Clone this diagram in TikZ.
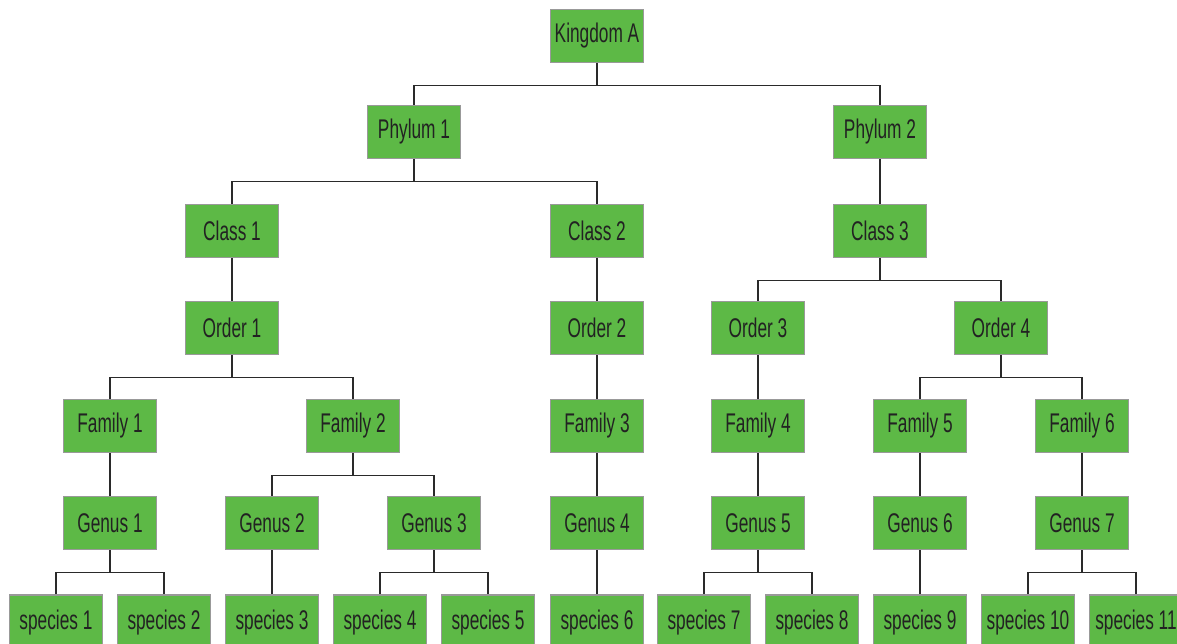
\documentclass[tikz,border=0pt]{standalone}
\usepackage{fontspec}
\setmainfont[FakeStretch=0.64]{Liberation Sans}
\definecolor{boxgreen}{HTML}{5DB946}
\definecolor{boxborder}{HTML}{999999}
\definecolor{linecol}{HTML}{2A2A2A}
\definecolor{txtcol}{HTML}{222222}
\tikzset{
  taxbox/.style={draw=boxborder, line width=1.6pt, fill=boxgreen, minimum width=93pt, minimum height=53pt, inner sep=0pt, text=txtcol, font=\fontsize{27}{29}\selectfont},
  spbox/.style={taxbox, minimum height=56pt},
  conn/.style={draw=linecol, line width=1.3pt}
}
\begin{document}
\begin{tikzpicture}[x=1pt,y=-1pt]
\useasboundingbox (0,0) rectangle (1177,643);
\begin{scope}
\clip (0,0) rectangle (1177,643);
% rows
\node[taxbox] (k) at (597,36) {Kingdom A};
\node[taxbox] (p1) at (414,132) {Phylum 1};
\node[taxbox] (p2) at (880,132) {Phylum 2};
\node[taxbox] (c1) at (232,231) {Class 1};
\node[taxbox] (c2) at (597,231) {Class 2};
\node[taxbox] (c3) at (880,231) {Class 3};
\node[taxbox] (o1) at (232,328) {Order 1};
\node[taxbox] (o2) at (597,328) {Order 2};
\node[taxbox] (o3) at (758,328) {Order 3};
\node[taxbox] (o4) at (1001,328) {Order 4};
\node[taxbox] (f1) at (110,426) {Family 1};
\node[taxbox] (f2) at (353,426) {Family 2};
\node[taxbox] (f3) at (597,426) {Family 3};
\node[taxbox] (f4) at (758,426) {Family 4};
\node[taxbox] (f5) at (920,426) {Family 5};
\node[taxbox] (f6) at (1082,426) {Family 6};
\node[taxbox] (g1) at (110,523) {Genus 1};
\node[taxbox] (g2) at (272,523) {Genus 2};
\node[taxbox] (g3) at (434,523) {Genus 3};
\node[taxbox] (g4) at (597,523) {Genus 4};
\node[taxbox] (g5) at (758,523) {Genus 5};
\node[taxbox] (g6) at (920,523) {Genus 6};
\node[taxbox] (g7) at (1082,523) {Genus 7};
\node[spbox] (s1) at (56,623) {species 1};
\node[spbox] (s2) at (164,623) {species 2};
\node[spbox] (s3) at (272,623) {species 3};
\node[spbox] (s4) at (380,623) {species 4};
\node[spbox] (s5) at (488,623) {species 5};
\node[spbox] (s6) at (597,623) {species 6};
\node[spbox] (s7) at (704,623) {species 7};
\node[spbox] (s8) at (812,623) {species 8};
\node[spbox] (s9) at (920,623) {species 9};
\node[spbox] (s10) at (1028,623) {species 10};
\node[spbox] (s11) at (1136,623) {species 11};
% connectors
\foreach \pn/\kids in {k/{p1,p2}, p1/{c1,c2}, p2/{c3}, c1/{o1}, c2/{o2}, c3/{o3,o4}, o1/{f1,f2}, o2/{f3}, o3/{f4}, o4/{f5,f6}, f1/{g1}, f2/{g2,g3}, f3/{g4}, f4/{g5}, f5/{g6}, f6/{g7}, g1/{s1,s2}, g2/{s3}, g3/{s4,s5}, g4/{s6}, g5/{s7,s8}, g6/{s9}, g7/{s10,s11}}{
  \foreach \kid in \kids {
    \draw[conn] (\pn.south) -- ++(0,22.5) -| (\kid.north);
  }
}
\end{scope}
\end{tikzpicture}
\end{document}
